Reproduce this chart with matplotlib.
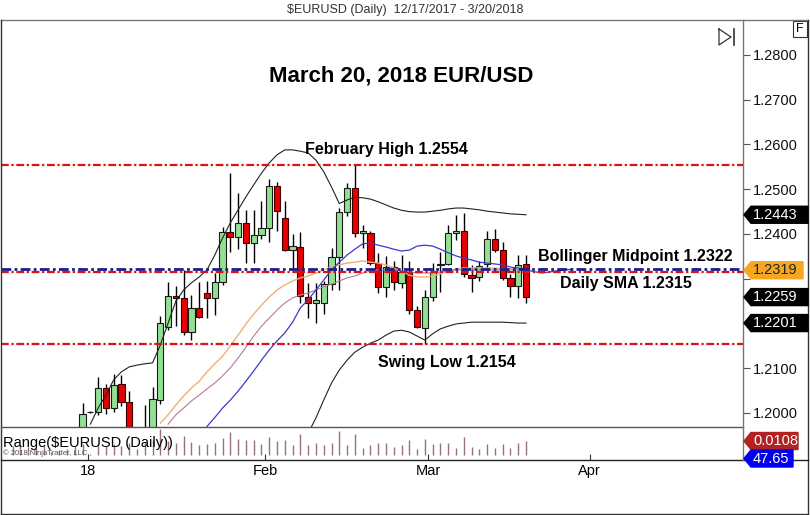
import matplotlib
matplotlib.use("Agg")
import matplotlib.pyplot as plt
import numpy as np
from matplotlib.patches import Polygon, Rectangle
from matplotlib.lines import Line2D

plt.rcParams['font.family'] = ['Liberation Sans', 'DejaVu Sans']

# Daily OHLC, one entry per trading day: index 0 = 12/18/2017 ... index 66 = 3/20/2018
opens = [1.1745, 1.1780, 1.1840, 1.1875, 1.1870, 1.1860, 1.1865, 1.1860, 1.1890, 1.1945,
         1.2002, 1.2002, 1.2056, 1.2011, 1.2065, 1.2025, 1.1962, 1.1937, 1.1950, 1.2029,
         1.2192, 1.2261, 1.2257, 1.2181, 1.2235, 1.2268, 1.2257, 1.2293, 1.2404, 1.2393,
         1.2425, 1.2380, 1.2398, 1.2413, 1.2507, 1.2436, 1.2364, 1.2371, 1.2259, 1.2246,
         1.2246, 1.2288, 1.2349, 1.2449, 1.2503, 1.2402, 1.2402, 1.2335, 1.2282, 1.2326,
         1.2291, 1.2315, 1.2230, 1.2190, 1.2259, 1.2330, 1.2333, 1.2402, 1.2407, 1.2308,
         1.2305, 1.2333, 1.2389, 1.2364, 1.2302, 1.2284, 1.2333]
highs = [1.1810, 1.1850, 1.1880, 1.1895, 1.1880, 1.1870, 1.1880, 1.1900, 1.1955, 1.2022,
         1.2004, 1.2081, 1.2065, 1.2088, 1.2085, 1.2050, 1.1965, 1.2018, 1.2058, 1.2217,
         1.2293, 1.2284, 1.2320, 1.2264, 1.2293, 1.2295, 1.2313, 1.2415, 1.2536, 1.2492,
         1.2454, 1.2454, 1.2474, 1.2523, 1.2516, 1.2474, 1.2400, 1.2404, 1.2290, 1.2290,
         1.2295, 1.2369, 1.2458, 1.2514, 1.2554, 1.2420, 1.2406, 1.2357, 1.2350, 1.2340,
         1.2353, 1.2340, 1.2240, 1.2275, 1.2335, 1.2360, 1.2420, 1.2443, 1.2446, 1.2331,
         1.2340, 1.2407, 1.2411, 1.2382, 1.2310, 1.2353, 1.2353]
lows = [1.1740, 1.1770, 1.1820, 1.1840, 1.1810, 1.1850, 1.1845, 1.1855, 1.1885, 1.1940,
        1.1999, 1.1995, 1.1998, 1.2002, 1.2015, 1.1955, 1.1915, 1.1915, 1.1945, 1.2020,
        1.2185, 1.2195, 1.2174, 1.2163, 1.2212, 1.2212, 1.2219, 1.2287, 1.2360, 1.2366,
        1.2335, 1.2335, 1.2389, 1.2382, 1.2407, 1.2362, 1.2320, 1.2245, 1.2212, 1.2201,
        1.2221, 1.2275, 1.2275, 1.2440, 1.2393, 1.2369, 1.2330, 1.2268, 1.2259, 1.2275,
        1.2279, 1.2221, 1.2190, 1.2154, 1.2250, 1.2270, 1.2330, 1.2387, 1.2305, 1.2270,
        1.2295, 1.2320, 1.2360, 1.2298, 1.2259, 1.2257, 1.2245]
closes = [1.1780, 1.1840, 1.1875, 1.1870, 1.1860, 1.1865, 1.1860, 1.1890, 1.1945, 1.1998,
          1.2002, 1.2056, 1.2011, 1.2063, 1.2025, 1.1962, 1.1937, 1.1950, 1.2031, 1.2201,
          1.2261, 1.2256, 1.2181, 1.2235, 1.2215, 1.2257, 1.2293, 1.2404, 1.2393, 1.2425,
          1.2380, 1.2398, 1.2413, 1.2507, 1.2451, 1.2364, 1.2373, 1.2261, 1.2246, 1.2252,
          1.2288, 1.2349, 1.2449, 1.2503, 1.2402, 1.2407, 1.2335, 1.2282, 1.2326, 1.2293,
          1.2315, 1.2230, 1.2192, 1.2259, 1.2315, 1.2334, 1.2402, 1.2407, 1.2311, 1.2302,
          1.2328, 1.2389, 1.2364, 1.2302, 1.2284, 1.2331, 1.2259]

# indicator curves (first index, values)
upper_start = 10
upper_band = [1.1975, 1.2011, 1.2040, 1.2074, 1.2092, 1.2103, 1.2107, 1.2110, 1.2112, 1.2152,
              1.2201, 1.2250, 1.2275, 1.2291, 1.2304, 1.2320, 1.2353, 1.2391, 1.2425, 1.2454,
              1.2483, 1.2510, 1.2536, 1.2559, 1.2577, 1.2588, 1.2588, 1.2585, 1.2581, 1.2565,
              1.2539, 1.2505, 1.2468, 1.2476, 1.2482, 1.2481, 1.2478, 1.2472, 1.2465, 1.2458,
              1.2453, 1.2450, 1.2449, 1.2449, 1.2451, 1.2453, 1.2456, 1.2458, 1.2458, 1.2456,
              1.2454, 1.2451, 1.2449, 1.2447, 1.2445, 1.2444, 1.2443]
lower_start = 38
lower_band = [1.1955, 1.1989, 1.2029, 1.2067, 1.2096, 1.2118, 1.2136, 1.2147, 1.2156, 1.2163,
              1.2174, 1.2183, 1.2185, 1.2181, 1.2172, 1.2163, 1.2177, 1.2188, 1.2194, 1.2199,
              1.2201, 1.2203, 1.2203, 1.2203, 1.2203, 1.2203, 1.2202, 1.2201, 1.2201]
blue_start = 25
blue_line = [1.1970, 1.1990, 1.2011, 1.2029, 1.2049, 1.2071, 1.2094, 1.2118, 1.2141, 1.2161,
             1.2179, 1.2203, 1.2235, 1.2253, 1.2275, 1.2297, 1.2320, 1.2337, 1.2353, 1.2366,
             1.2378, 1.2380, 1.2375, 1.2371, 1.2366, 1.2362, 1.2364, 1.2373, 1.2375, 1.2373,
             1.2366, 1.2358, 1.2351, 1.2346, 1.2342, 1.2337, 1.2335, 1.2333, 1.2331, 1.2326,
             1.2324, 1.2320, 1.2316, 1.2313, 1.2315, 1.2318, 1.2320, 1.2321]
orange_start = 19
orange_line = [1.1977, 1.1996, 1.2018, 1.2038, 1.2056, 1.2071, 1.2092, 1.2110, 1.2127, 1.2150,
               1.2174, 1.2199, 1.2221, 1.2241, 1.2259, 1.2275, 1.2286, 1.2295, 1.2302, 1.2306,
               1.2313, 1.2320, 1.2326, 1.2331, 1.2335, 1.2337, 1.2340, 1.2337, 1.2335, 1.2331,
               1.2324, 1.2317, 1.2308, 1.2304, 1.2304, 1.2306, 1.2311, 1.2317, 1.2322, 1.2324,
               1.2324, 1.2324, 1.2324, 1.2324, 1.2322, 1.2322, 1.2320, 1.2320]
pink_start = 20
pink_line = [1.1975, 1.1996, 1.2011, 1.2027, 1.2040, 1.2054, 1.2067, 1.2083, 1.2101, 1.2123,
             1.2147, 1.2172, 1.2194, 1.2212, 1.2230, 1.2246, 1.2257, 1.2264, 1.2268, 1.2275,
             1.2282, 1.2288, 1.2295, 1.2302, 1.2306, 1.2313, 1.2317, 1.2320, 1.2320, 1.2320,
             1.2317, 1.2315, 1.2313, 1.2313, 1.2313, 1.2315, 1.2317, 1.2320, 1.2320, 1.2320,
             1.2320, 1.2320, 1.2320, 1.2320, 1.2320, 1.2320, 1.2320]

feb_high = 1.2554
swing_low = 1.2154
bb_mid = 1.2322
daily_sma = 1.2315

price_ticks = [1.20, 1.21, 1.22, 1.23, 1.24, 1.25, 1.26, 1.27, 1.28]
hidden_ticks = [1.22, 1.23]   # labels covered by the price flags
month_ticks = [9.7, 32.45, 53.4, 74.2]
month_labels = ['18', 'Feb', 'Mar', 'Apr']

W, H = 810, 515


def fpos(px, py):
    return px / W, 1 - py / H


fig = plt.figure(figsize=(8.1, 5.15), dpi=100)
ax = fig.add_axes([1 / W, 1 - 427 / H, 742 / W, 407 / H])
axr = fig.add_axes([1 / W, 1 - 460 / H, 742 / W, 33 / H], sharex=ax)

n = len(closes)
idx = np.arange(n)
o = np.array(opens)
c = np.array(closes)
hi = np.array(highs)
lo = np.array(lows)

# candles
ax.vlines(idx, lo, hi, color='black', lw=1, zorder=2)
up = c >= o
body = np.maximum(np.abs(c - o), 0.00006)
ax.bar(idx[up], body[up], bottom=np.minimum(o, c)[up], width=0.8,
       color='#92e092', edgecolor='#1a1a1a', lw=0.8, zorder=2)
ax.bar(idx[~up], body[~up], bottom=np.minimum(o, c)[~up], width=0.8,
       color='#e60000', edgecolor='#3a0000', lw=0.8, zorder=2)


def curve(start, vals, **kw):
    ax.plot(np.arange(start, start + len(vals)), vals, zorder=3, **kw)


curve(orange_start, orange_line, color='#f0b070', lw=1.0)
curve(pink_start, pink_line, color='#b87898', lw=0.8)
curve(blue_start, blue_line, color='#3a3acc', lw=0.9)
curve(upper_start, upper_band, color='#222222', lw=0.8)
curve(lower_start, lower_band, color='#222222', lw=0.8)

# level lines
dash = (0, (3.5, 1.2, 1, 1.2))
ax.axhline(feb_high, color='#dd1111', lw=1.6, ls=dash, zorder=4)
ax.axhline(swing_low, color='#dd1111', lw=1.6, ls=dash, zorder=4)
ax.axhline(daily_sma, color='#dd1111', lw=1.6, ls=dash, zorder=4)
ax.axhline(bb_mid, color='#1c1c8a', lw=2.0, ls=dash, zorder=4)

ax.set_xlim(-1.48, 93.89)
ax.set_ylim(1.196871, 1.287821)
ax.yaxis.tick_right()
ax.set_yticks(price_ticks)
ax.set_yticklabels(['' if p in hidden_ticks else '%.4f' % p for p in price_ticks])
ax.tick_params(axis='y', direction='out', length=5, width=0.8, color='#555555',
               pad=2, labelsize=10.5, labelcolor='#111111')
ax.tick_params(axis='x', bottom=False, labelbottom=False)
for s in ax.spines.values():
    s.set_visible(False)

# annotations
tb = dict(fontsize=11.5, fontweight='bold', ha='center', va='center', zorder=6)
ax.text(49.9, 1.2753, 'March 20, 2018 EUR/USD', fontsize=16, fontweight='bold',
        ha='center', va='center', zorder=6)
ax.text(48.0, 1.2588, 'February High 1.2554', **tb)
ax.text(80.1, 1.2349, 'Bollinger Midpoint 1.2322', **tb)
ax.text(78.9, 1.2290, 'Daily SMA 1.2315', **tb)
ax.text(55.8, 1.2112, 'Swing Low 1.2154', **tb)

# range panel
ranges = hi - lo
axr.vlines(idx, 0, ranges, color='#9a7080', lw=1)
axr.set_ylim(-0.003858, 0.021605)
axr.set_yticks([])
axr.set_xticks(month_ticks)
axr.set_xticklabels(month_labels)
axr.tick_params(axis='x', direction='in', length=4, width=0.8, color='#333333',
                pad=3, labelsize=10.5)
for s in axr.spines.values():
    s.set_visible(False)
axr.text(2 / 742, 0.52, 'Range($EURUSD (Daily))', transform=axr.transAxes,
         fontsize=10.5, ha='left', va='center', zorder=6)
axr.text(2 / 742, 0.2, '© 2018 NinjaTrader, LLC', transform=axr.transAxes,
         fontsize=5.5, ha='left', va='center', color='#555555', zorder=6)


# frame lines
def fline(p0, p1, color='#666666', lw=1.0):
    (x0, y0), (x1, y1) = fpos(*p0), fpos(*p1)
    fig.add_artist(Line2D([x0, x1], [y0, y1], color=color, lw=lw, transform=fig.transFigure))


fline((1, 20), (808, 20), '#777777')
fline((1, 20), (1, 514), '#333333')
fline((808, 20), (808, 514), '#333333')
fline((1, 514), (808, 514), '#333333')
fline((1, 427), (743, 427), '#555555')
fline((1, 460), (808, 460), '#222222')
fline((743, 20), (743, 460), '#777777')

fig.text(405 / W, 1 - 10 / H, '$EURUSD (Daily)  12/17/2017 - 3/20/2018', ha='center',
         va='center', fontsize=9, color='#333333')

# "F" box and go-to-end icon
fx0, fy0 = fpos(793, 37)
fig.add_artist(Rectangle((fx0, fy0), 14 / W, 16 / H, transform=fig.transFigure,
                         facecolor='white', edgecolor='#333333', lw=0.8))
fig.text(800 / W, 1 - 29 / H, 'F', ha='center', va='center', fontsize=9)
tri = [fpos(719, 29), fpos(719, 45), fpos(731, 37), fpos(719, 29)]
fig.add_artist(Line2D([p[0] for p in tri], [p[1] for p in tri], color='#333333', lw=0.9,
                      transform=fig.transFigure))
b0, b1 = fpos(734, 29), fpos(734, 45)
fig.add_artist(Line2D([b0[0], b1[0]], [b0[1], b1[1]], color='#333333', lw=1.2,
                      transform=fig.transFigure))


# price tags on the right axis
def tag(axis, value, text, face, fg, x1=805):
    y = axis.transData.transform((0, value))[1] / fig.dpi * 100  # display px from bottom
    x0, h = 744, 8.5
    pts = [(x0, y), (x0 + 7, y + h), (x1, y + h), (x1, y - h), (x0 + 7, y - h)]
    pts = [(px / W, py / H) for px, py in pts]
    fig.add_artist(Polygon(pts, closed=True, transform=fig.transFigure, facecolor=face,
                           edgecolor=face, zorder=10))
    fig.text((x0 + 9) / W, y / H, text, ha='left', va='center', color=fg, fontsize=10.5,
             zorder=11)


tag(ax, upper_band[-1], '%.4f' % upper_band[-1], 'black', 'white', 808)
tag(ax, orange_line[-1] - 0.0001, '1.2319', '#f5a623', '#222222', 803)
tag(ax, closes[-1], '%.4f' % closes[-1], 'black', 'white', 808)
tag(ax, lower_band[-1], '%.4f' % lower_band[-1], 'black', 'white', 808)
tag(axr, ranges[-1], '%.4f' % ranges[-1], '#b22222', 'white', 798)
last_y = axr.transData.transform((0, 0))[1]
tag(axr, axr.transData.inverted().transform((0, last_y - 3.5))[1], '47.65', '#0000ee', 'white', 793)

fig.savefig('out.png', dpi=100)
